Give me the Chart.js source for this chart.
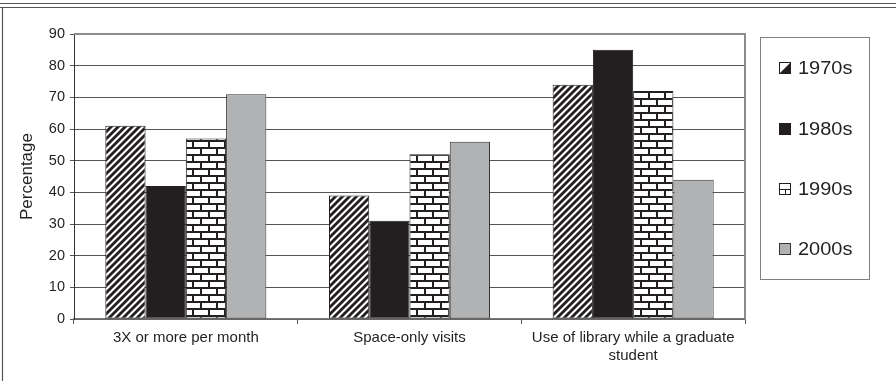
<!DOCTYPE html>
<html>
<head>
<meta charset="utf-8">
<style>
  html, body { margin: 0; padding: 0; background: #ffffff; }
  #wrap { position: relative; width: 896px; height: 381px; }
  canvas { display: block; }
</style>
<script src="https://cdn.jsdelivr.net/npm/chart.js@4.4.1/dist/chart.umd.min.js"></script>
</head>
<body>
<div id="wrap"><canvas id="chart" width="896" height="381"></canvas></div>
<script>
// Library use by decade (percent of respondents)
const categories = [
  '3X or more per month',
  'Space-only visits',
  ['Use of library while a graduate', 'student']
];
const seriesNames = ['1970s', '1980s', '1990s', '2000s'];
const values1970s = [61, 39, 74];
const values1980s = [42, 31, 85];
const values1990s = [57, 52, 72];
const values2000s = [71, 56, 44];
const yTicks = [0, 10, 20, 30, 40, 50, 60, 70, 80, 90];

const INK = '#231f20';
const FONT = '"Liberation Sans", Arial, sans-serif';

function makeTile(w, h, paint) {
  const c = document.createElement('canvas');
  c.width = w; c.height = h;
  const g = c.getContext('2d');
  g.fillStyle = '#ffffff';
  g.fillRect(0, 0, w, h);
  paint(g);
  return c;
}

const ctx = document.getElementById('chart').getContext('2d');

// Diagonal "/" hatching
const stripeTile = makeTile(7, 7, g => {
  g.strokeStyle = INK;
  g.lineWidth = 2.8;
  g.lineCap = 'square';
  [0, 7, 14].forEach(c => {
    g.beginPath();
    g.moveTo(c + 1, -1);
    g.lineTo(c - 8, 8);
    g.stroke();
  });
});
const stripePattern = ctx.createPattern(stripeTile, 'repeat');

// Brick wall
const brickTile = makeTile(16, 14, g => {
  g.fillStyle = INK;
  g.fillRect(0, 0, 16, 2);
  g.fillRect(0, 7, 16, 2);
  g.fillRect(0, 0, 2, 7);
  g.fillRect(8, 7, 2, 7);
});
const brickPattern = ctx.createPattern(brickTile, 'repeat');

const fills = [stripePattern, INK, brickPattern, '#b1b2b4'];
const seriesValues = [values1970s, values1980s, values1990s, values2000s];

// Outer frame lines and plot-area border
const framePlugin = {
  id: 'frame',
  beforeDraw(chart) {
    const g = chart.ctx;
    g.save();
    g.strokeStyle = '#555555';
    g.lineWidth = 1.2;
    g.beginPath();
    g.moveTo(0, 3.5); g.lineTo(896, 3.5);
    g.moveTo(0, 7.5); g.lineTo(896, 7.5);
    g.moveTo(2.5, 7.5); g.lineTo(2.5, 381);
    g.stroke();
    g.restore();
  },
  afterDatasetsDraw(chart) {
    const a = chart.chartArea;
    const g = chart.ctx;
    g.save();
    g.strokeStyle = '#8c8c8c';
    g.lineWidth = 2;
    g.beginPath();
    g.moveTo(a.left, a.top);
    g.lineTo(a.right, a.top);
    g.lineTo(a.right, a.bottom);
    g.stroke();
    g.restore();
  }
};

// Boxed legend on the right with pattern swatches
function drawMarker(g, i, x, y, s) {
  g.save();
  g.lineWidth = 1;
  g.strokeStyle = INK;
  if (i === 0) {
    g.fillStyle = '#ffffff';
    g.fillRect(x, y, s, s);
    g.fillStyle = INK;
    g.beginPath();
    g.moveTo(x + s, y); g.lineTo(x + s, y + s); g.lineTo(x, y + s); g.closePath();
    g.fill();
    g.strokeRect(x + 0.5, y + 0.5, s - 1, s - 1);
  } else if (i === 1) {
    g.fillStyle = INK;
    g.fillRect(x, y, s, s);
  } else if (i === 2) {
    g.fillStyle = '#ffffff';
    g.fillRect(x, y, s, s);
    g.strokeRect(x + 0.5, y + 0.5, s - 1, s - 1);
    g.beginPath();
    g.moveTo(x, y + s / 2 + 0.5); g.lineTo(x + s, y + s / 2 + 0.5);
    g.moveTo(x + s / 2 + 0.5, y + s / 2); g.lineTo(x + s / 2 + 0.5, y + s);
    g.stroke();
  } else {
    g.fillStyle = '#b1b2b4';
    g.fillRect(x, y, s, s);
    g.strokeStyle = '#333333';
    g.strokeRect(x + 0.5, y + 0.5, s - 1, s - 1);
  }
  g.restore();
}

const legendPlugin = {
  id: 'boxLegend',
  afterDraw(chart) {
    const g = chart.ctx;
    g.save();
    g.strokeStyle = '#808080';
    g.lineWidth = 1;
    g.strokeRect(760.5, 37.5, 109, 242);
    g.font = '18px ' + FONT;
    g.fillStyle = INK;
    g.textBaseline = 'middle';
    const rows = [68, 129, 189, 249];
    chart.data.datasets.forEach((ds, i) => {
      drawMarker(g, i, 779, rows[i] - 6, 12);
      g.save();
      g.translate(798, rows[i] + 1);
      g.scale(1.11, 1);
      g.fillText(ds.label, 0, 0);
      g.restore();
    });
    g.restore();
  }
};

new Chart(ctx, {
  type: 'bar',
  data: {
    labels: categories,
    datasets: seriesNames.map((name, i) => ({
      label: name,
      data: seriesValues[i],
      backgroundColor: fills[i],
      borderColor: i === 3 ? '#333333' : INK,
      borderWidth: 1,
      borderSkipped: false,
      categoryPercentage: 0.72,
      barPercentage: 1.0
    }))
  },
  options: {
    responsive: false,
    animation: false,
    layout: { padding: { left: 0, right: 151, top: 34, bottom: 0 } },
    plugins: {
      legend: { display: false },
      tooltip: { enabled: false }
    },
    scales: {
      x: {
        grid: {
          offset: true,
          drawOnChartArea: false,
          drawTicks: true,
          tickLength: 5,
          color: '#555555'
        },
        border: { color: '#7a7a7a', width: 1.5 },
        ticks: {
          color: INK,
          padding: 5,
          maxRotation: 0,
          autoSkip: false,
          font: { family: FONT, size: 15, lineHeight: 1.2 }
        },
        afterFit(scale) { scale.height = 62; }
      },
      y: {
        min: 0,
        max: 90,
        afterBuildTicks(scale) { scale.ticks = yTicks.map(v => ({ value: v })); },
        grid: {
          color: '#555555',
          lineWidth: 1,
          drawTicks: true,
          tickLength: 4
        },
        border: { color: '#333333', width: 1 },
        ticks: {
          color: INK,
          padding: 5,
          font: { family: FONT, size: 14.5 }
        },
        title: {
          display: true,
          text: 'Percentage',
          color: INK,
          padding: { top: 17, bottom: 0 },
          font: { family: FONT, size: 17 }
        },
        afterFit(scale) { scale.width = 74; }
      }
    }
  },
  plugins: [framePlugin, legendPlugin]
});
</script>
</body>
</html>
